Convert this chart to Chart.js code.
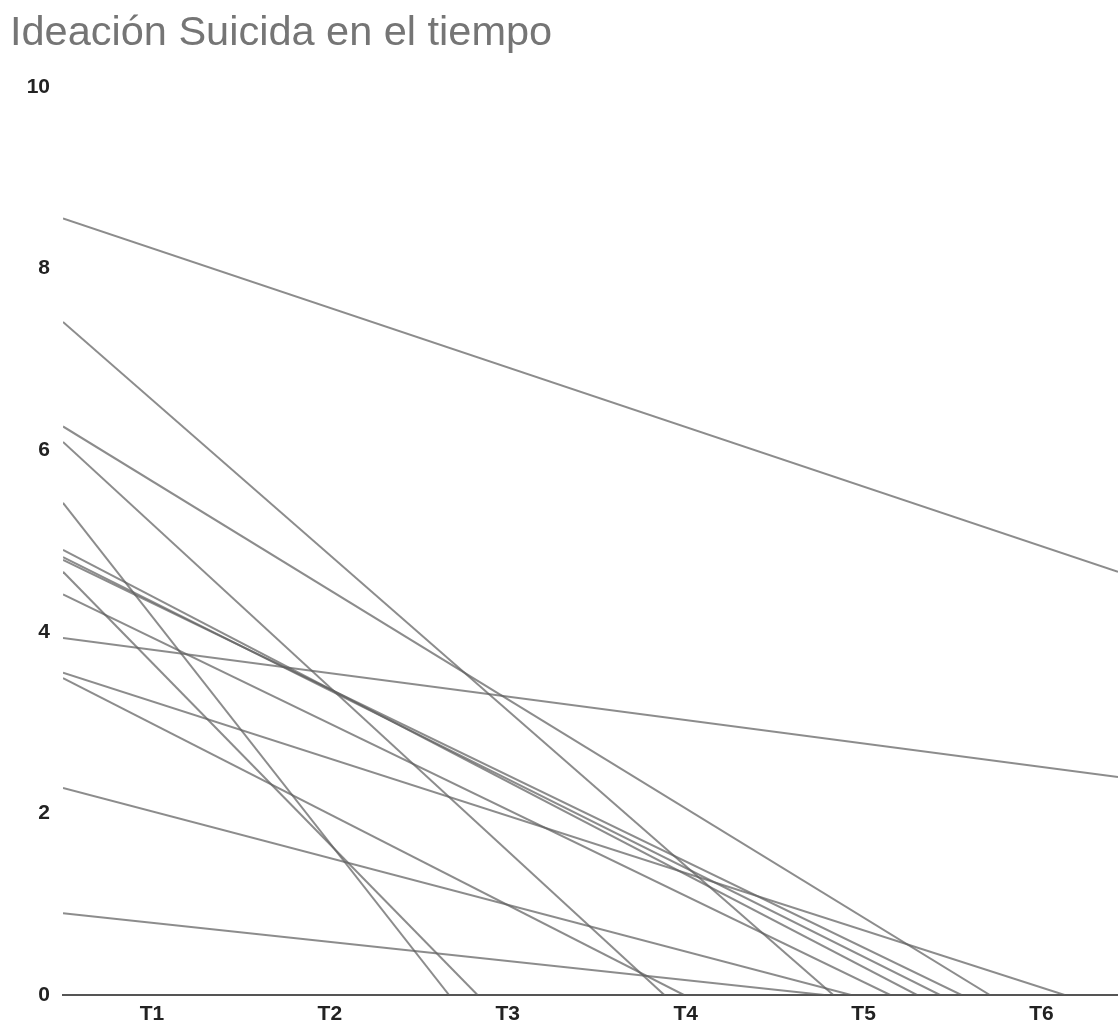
<!DOCTYPE html>
<html>
<head>
<meta charset="utf-8">
<script src="https://cdn.jsdelivr.net/npm/chart.js@4/dist/chart.umd.min.js"></script>
<style>
  html, body { margin: 0; padding: 0; background: #fff; }
  #wrap { width: 1118px; height: 1024px; }
</style>
</head>
<body>
<div id="wrap"><canvas id="grafico"></canvas></div>
<script>
// categorias del eje x
const categorias = ['T1', 'T2', 'T3', 'T4', 'T5', 'T6'];
// valor de cada recta en el borde izquierdo del grafico
const valoresInicio = [8.55, 7.41, 6.26, 6.09, 5.42, 4.90, 4.82, 4.79, 4.66, 4.41, 3.93, 3.55, 3.49, 2.28, 0.90];
// posicion (en unidades de T) donde termina cada recta
const posicionFin = [6.43, 4.83, 5.71, 3.88, 2.67, 5.30, 5.43, 5.55, 2.83, 5.15, 6.43, 6.13, 3.99, 4.93, 4.78];
// valor en el punto final
const valoresFin = [4.66, 0, 0, 0, 0, 0, 0, 0, 0, 0, 2.40, 0, 0, 0, 0];
// ticks del eje y
const ticksY = [0, 2, 4, 6, 8, 10];

const xMin = 0.5, xMax = 6.43;
const fuente = 'Liberation Sans, Arial, sans-serif';

const datasets = valoresInicio.map((v, i) => ({
    data: [{x: xMin, y: v}, {x: posicionFin[i], y: valoresFin[i]}],
    borderColor: 'rgba(95, 95, 95, 0.72)',
    borderWidth: 2,
    pointRadius: 0,
    fill: false,
    tension: 0
}));

new Chart(document.getElementById('grafico'), {
    type: 'line',
    data: { datasets: datasets },
    options: {
        responsive: true,
        maintainAspectRatio: false,
        animation: false,
        layout: { padding: { left: 10, right: 0, top: 0, bottom: 0 } },
        plugins: {
            legend: { display: false },
            tooltip: { enabled: false },
            title: {
                display: true,
                text: 'Ideación Suicida en el tiempo',
                align: 'start',
                color: '#757575',
                font: { family: fuente, size: 41.5, weight: 'normal' },
                padding: { top: 9, bottom: 28 }
            }
        },
        scales: {
            x: {
                type: 'linear',
                min: xMin,
                max: xMax,
                grid: { display: false, drawTicks: false },
                border: { display: true, color: '#555', width: 2 },
                afterBuildTicks: (s) => { s.ticks = categorias.map((c, i) => ({ value: i + 1 })); },
                afterFit: (s) => { s.height = 29; },
                ticks: {
                    padding: 7,
                    maxRotation: 0,
                    color: '#222',
                    font: { family: fuente, size: 21, weight: 'bold' },
                    callback: (v) => categorias[Math.round(v) - 1]
                }
            },
            y: {
                min: 0,
                max: 10,
                grid: { display: false, drawTicks: false },
                border: { display: false },
                afterBuildTicks: (s) => { s.ticks = ticksY.map(v => ({ value: v })); },
                afterFit: (s) => { s.width = 53; },
                ticks: {
                    padding: 13,
                    color: '#222',
                    font: { family: fuente, size: 21, weight: 'bold' }
                }
            }
        }
    }
});
</script>
</body>
</html>
